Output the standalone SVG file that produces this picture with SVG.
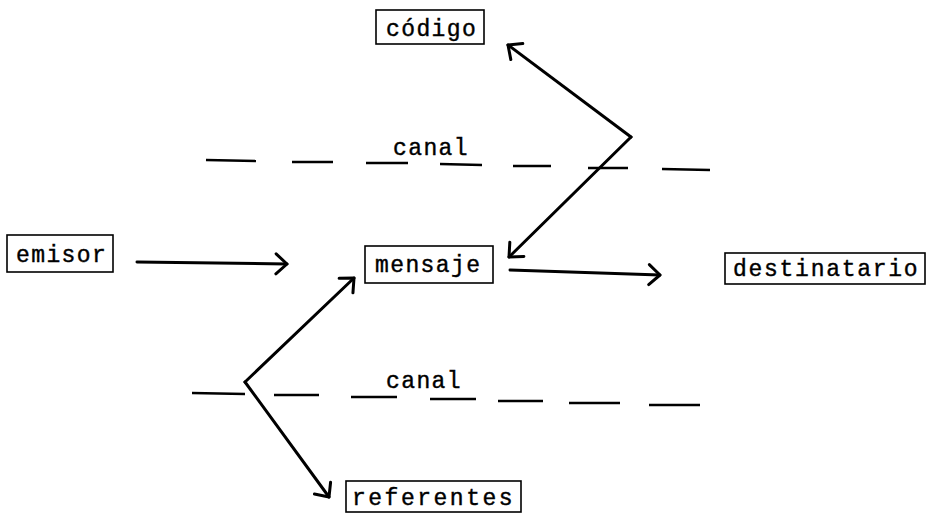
<svg xmlns="http://www.w3.org/2000/svg" width="926" height="513" viewBox="0 0 926 513">
  <defs>
    <style>
      .box { fill: #fff; stroke: #000; stroke-width: 1.6; }
      .lbl { font-family: "Liberation Mono", "DejaVu Sans Mono", monospace; font-size: 23px; letter-spacing: 1.4px; fill: #000; stroke: #000; stroke-width: 0.4; }
      .con { fill: none; stroke: #000; stroke-width: 3; stroke-linejoin: round; stroke-linecap: round; }
      .dash { stroke: #000; stroke-width: 2.4; stroke-linecap: butt; }
    </style>
    <marker id="head" markerUnits="userSpaceOnUse" markerWidth="30" markerHeight="30" viewBox="-15 -15 30 30" refX="0" refY="0" orient="auto">
      <path d="M-11,-10 L0,0 L-11,10" fill="none" stroke="#000" stroke-width="3" stroke-linecap="round" stroke-linejoin="round"/>
    </marker>
  </defs>

  <!-- channel lines -->
  <g id="canal-top">
    <line class="dash" x1="206" y1="160" x2="256" y2="161"/>
    <line class="dash" x1="292" y1="162" x2="333" y2="162"/>
    <line class="dash" x1="366" y1="163" x2="408" y2="163"/>
    <line class="dash" x1="440" y1="164" x2="482" y2="165"/>
    <line class="dash" x1="513" y1="166" x2="551" y2="166"/>
    <line class="dash" x1="588" y1="168" x2="628" y2="168"/>
    <line class="dash" x1="662" y1="169" x2="710" y2="170"/>
    <text class="lbl" x="393" y="155">canal</text>
  </g>
  <g id="canal-bottom">
    <line class="dash" x1="192" y1="393" x2="245" y2="394"/>
    <line class="dash" x1="274" y1="395" x2="319" y2="395"/>
    <line class="dash" x1="351" y1="397" x2="397" y2="397"/>
    <line class="dash" x1="430" y1="399" x2="476" y2="399"/>
    <line class="dash" x1="498" y1="401" x2="543" y2="401"/>
    <line class="dash" x1="569" y1="403" x2="620" y2="403"/>
    <line class="dash" x1="649" y1="405" x2="700" y2="405"/>
    <text class="lbl" x="386" y="388">canal</text>
  </g>

  <!-- nodes -->
  <g id="codigo">
    <rect class="box" x="376" y="10" width="108" height="34"/>
    <text class="lbl" x="386" y="36">código</text>
  </g>
  <g id="emisor">
    <rect class="box" x="7" y="235" width="106" height="37"/>
    <text class="lbl" x="16" y="262">emisor</text>
  </g>
  <g id="mensaje">
    <rect class="box" x="365" y="246" width="128" height="37"/>
    <text class="lbl" x="375" y="272">mensaje</text>
  </g>
  <g id="destinatario">
    <rect class="box" x="725" y="253" width="200" height="31"/>
    <text class="lbl" x="733" y="276" textLength="186" lengthAdjust="spacing">destinatario</text>
  </g>
  <g id="referentes">
    <rect class="box" x="346" y="481" width="175" height="31"/>
    <text class="lbl" x="352" y="505" textLength="162" lengthAdjust="spacing">referentes</text>
  </g>

  <!-- connectors -->
  <g id="connectors">
    <line class="con" x1="137" y1="262" x2="287" y2="264" marker-end="url(#head)"/>
    <line class="con" x1="510" y1="270" x2="660" y2="275" marker-end="url(#head)"/>
    <path class="con" d="M631,137 L509,257" marker-end="url(#head)"/>
    <path class="con" d="M631,137 L508,45" marker-end="url(#head)"/>
    <path class="con" d="M245,382 L354,278" marker-end="url(#head)"/>
    <path class="con" d="M245,382 L329,497" marker-end="url(#head)"/>
  </g>
</svg>
